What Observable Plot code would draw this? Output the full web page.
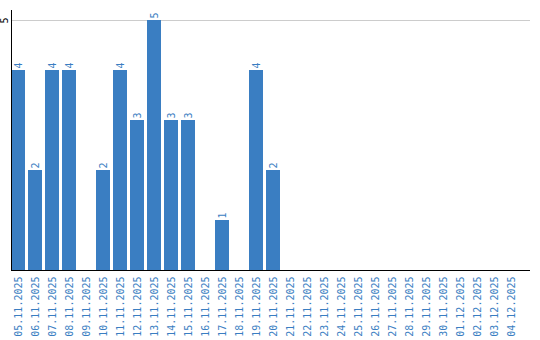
<!DOCTYPE html>
<html><head><meta charset="utf-8">
<script src="https://cdn.jsdelivr.net/npm/d3@7"></script>
<script src="https://cdn.jsdelivr.net/npm/@observablehq/plot@0.6"></script>
<style>body{margin:0;background:#fff}</style>
</head><body><div id="chart"></div>
<script>
const dates = ["05.11.2025","06.11.2025","07.11.2025","08.11.2025","09.11.2025","10.11.2025","11.11.2025","12.11.2025","13.11.2025","14.11.2025","15.11.2025","16.11.2025","17.11.2025","18.11.2025","19.11.2025","20.11.2025","21.11.2025","22.11.2025","23.11.2025","24.11.2025","25.11.2025","26.11.2025","27.11.2025","28.11.2025","29.11.2025","30.11.2025","01.12.2025","02.12.2025","03.12.2025","04.12.2025"];
const counts = [4,2,4,4,0,2,4,3,5,3,3,0,1,0,4,2,0,0,0,0,0,0,0,0,0,0,0,0,0,0];
const yTicks = [5];
const data = dates.map((d,i)=>({date:d, count:counts[i]}));
const blue = "#3a7ec2";
const chart = Plot.plot({
  width: 540, height: 340,
  marginLeft: 11, marginRight: 10, marginTop: 10, marginBottom: 70,
  style: {fontFamily: "DejaVu Sans Mono", fontSize: "10px", background: "#fff"},
  x: {domain: dates, range: [11, 518], paddingInner: 0.18, paddingOuter: 0, label: null},
  y: {domain: [0, 5.2], label: null, axis: null},
  marks: [
    Plot.ruleY(yTicks, {stroke: "#ccc"}),
    Plot.barY(data, {x: "date", y: "count", fill: blue}),
    Plot.text(data.filter(d=>d.count>0), {x: "date", y: "count", text: d=>String(d.count), rotate: -90, textAnchor: "start", dy: -2, fill: blue}),
    Plot.axisX({tickRotate: -90, tickSize: 0, tickPadding: 6, fill: blue, label: null}),
    Plot.text(yTicks, {y: d=>d, text: d=>String(d), frameAnchor: "left", dx: -7, rotate: -90, textAnchor: "middle", fill: "#000"}),
    Plot.frame({anchor: "left", stroke: "#000"}),
    Plot.ruleY([0], {stroke: "#000"})
  ]
});
document.getElementById("chart").appendChild(chart);
</script></body></html>
